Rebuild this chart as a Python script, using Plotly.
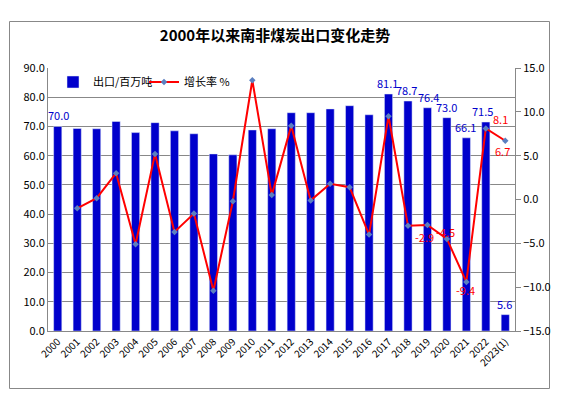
import plotly.graph_objects as go

years = ["2000", "2001", "2002", "2003", "2004", "2005", "2006", "2007", "2008", "2009",
         "2010", "2011", "2012", "2013", "2014", "2015", "2016", "2017", "2018", "2019",
         "2020", "2021", "2022", "2023(1)"]
exports = [70.0, 69.3, 69.2, 71.7, 67.9, 71.3, 68.5, 67.5, 60.6, 60.3,
           68.8, 69.2, 74.7, 74.7, 76.0, 77.1, 74.0, 81.1, 78.7, 76.4,
           73.0, 66.1, 71.5, 5.6]
growth = [None, -1.0, 0.15, 3.0, -5.1, 5.2, -3.7, -1.6, -10.4, -0.2,
          13.6, 0.5, 8.4, -0.1, 1.8, 1.4, -4.0, 9.5, -3.0, -2.9,
          -4.5, -9.4, 8.1, 6.7]

# which bars / points carry value labels, with small pixel nudges (dx, dy) for legibility
bar_labels = {"2000": (1, 0), "2017": (-1, 0), "2018": (-1, 0), "2019": (1, 0),
              "2020": (0, 0), "2021": (-1, 0), "2022": (-3, 0), "2023(1)": (-1, 0)}
line_labels = {"2019": (-3, -12), "2020": (-1, 7), "2021": (-1, -8),
               "2022": (15, 9), "2023(1)": (-3, -10)}

# the browser page has an 8px body margin; size the figure to the remaining window
W, H = 553, 391
OFF = 8
L, R, T, B = 48 - OFF, W - (515 - OFF), 68 - OFF, H - (331 - OFF)
pw, ph = W - L - R, H - T - B


def px_x(x):
    return (x - OFF - L) / pw


def px_y(y):
    return (H - B - (y - OFF)) / ph


fig = go.Figure()
fig.add_trace(go.Bar(
    x=years, y=exports, name="出口/百万吨",
    marker=dict(color="#0000CC"),
    width=0.42,
))
fig.add_trace(go.Scatter(
    x=years, y=growth, name="增长率 %", yaxis="y2",
    mode="lines+markers",
    line=dict(color="#FF0000", width=2),
    marker=dict(symbol="diamond", size=5, color="#5B7FC0"),
    cliponaxis=False,
))

annotations = []
for i, (yr, v) in enumerate(zip(years, exports)):
    if yr in bar_labels:
        dx, dy = bar_labels[yr]
        annotations.append(dict(x=i, y=v, xref="x", yref="y", text=f"{v:.1f}",
                                showarrow=False, yanchor="bottom", xshift=dx, yshift=1 + dy,
                                font=dict(color="#0000CC", size=11)))
for i, (yr, g) in enumerate(zip(years, growth)):
    if yr in line_labels and g is not None:
        dx, dy = line_labels[yr]
        annotations.append(dict(x=i, y=g, xref="x", yref="y2", text=f"{g:.1f}",
                                showarrow=False, xshift=dx, yshift=dy,
                                font=dict(color="#FF0000", size=11)))

fig.add_shape(type="rect", xref="paper", yref="paper",
              x0=px_x(9.5), x1=px_x(549.5), y0=px_y(388.5), y1=px_y(21.5),
              line=dict(color="#888888", width=1), fillcolor="rgba(0,0,0,0)", layer="below")

fig.update_layout(
    width=W, height=H,
    margin=dict(l=L, r=R, t=T, b=B, pad=0, autoexpand=False),
    paper_bgcolor="white", plot_bgcolor="white",
    font=dict(family="Noto Sans CJK SC, DejaVu Sans, sans-serif", size=11, color="#000000"),
    title=dict(text="<b>2000年以来南非煤炭出口变化走势</b>", x=(275 - OFF) / W, xanchor="center",
               y=1 - (36 - OFF) / H, yanchor="middle", font=dict(size=15, color="#000000")),
    annotations=annotations,
    showlegend=True,
    legend=dict(orientation="h", x=px_x(53), y=px_y(82), xanchor="left", yanchor="middle",
                bgcolor="rgba(0,0,0,0)", font=dict(size=11), itemwidth=30,
                entrywidth=46, tracegroupgap=0),
    bargap=0.58,
    xaxis=dict(type="category", range=[-0.5, len(years) - 0.5], tickangle=-45, showline=True,
               linecolor="#888888", linewidth=1, ticks="", tickfont=dict(size=10),
               showgrid=False, mirror=False, automargin=False),
    yaxis=dict(range=[0, 90], dtick=10, tickformat=".1f", showgrid=True, gridcolor="#888888",
               gridwidth=1, showline=True, linecolor="#888888", linewidth=1, ticks="",
               zeroline=False, tickfont=dict(size=11), automargin=False),
    yaxis2=dict(range=[-15, 15], dtick=5, tickformat=".1f", overlaying="y", side="right",
                showgrid=False, showline=True, linecolor="#888888", linewidth=1,
                ticks="outside", ticklen=5, tickcolor="#888888", zeroline=False,
                tickfont=dict(size=11), automargin=False),
)

fig.write_html("out.html")
